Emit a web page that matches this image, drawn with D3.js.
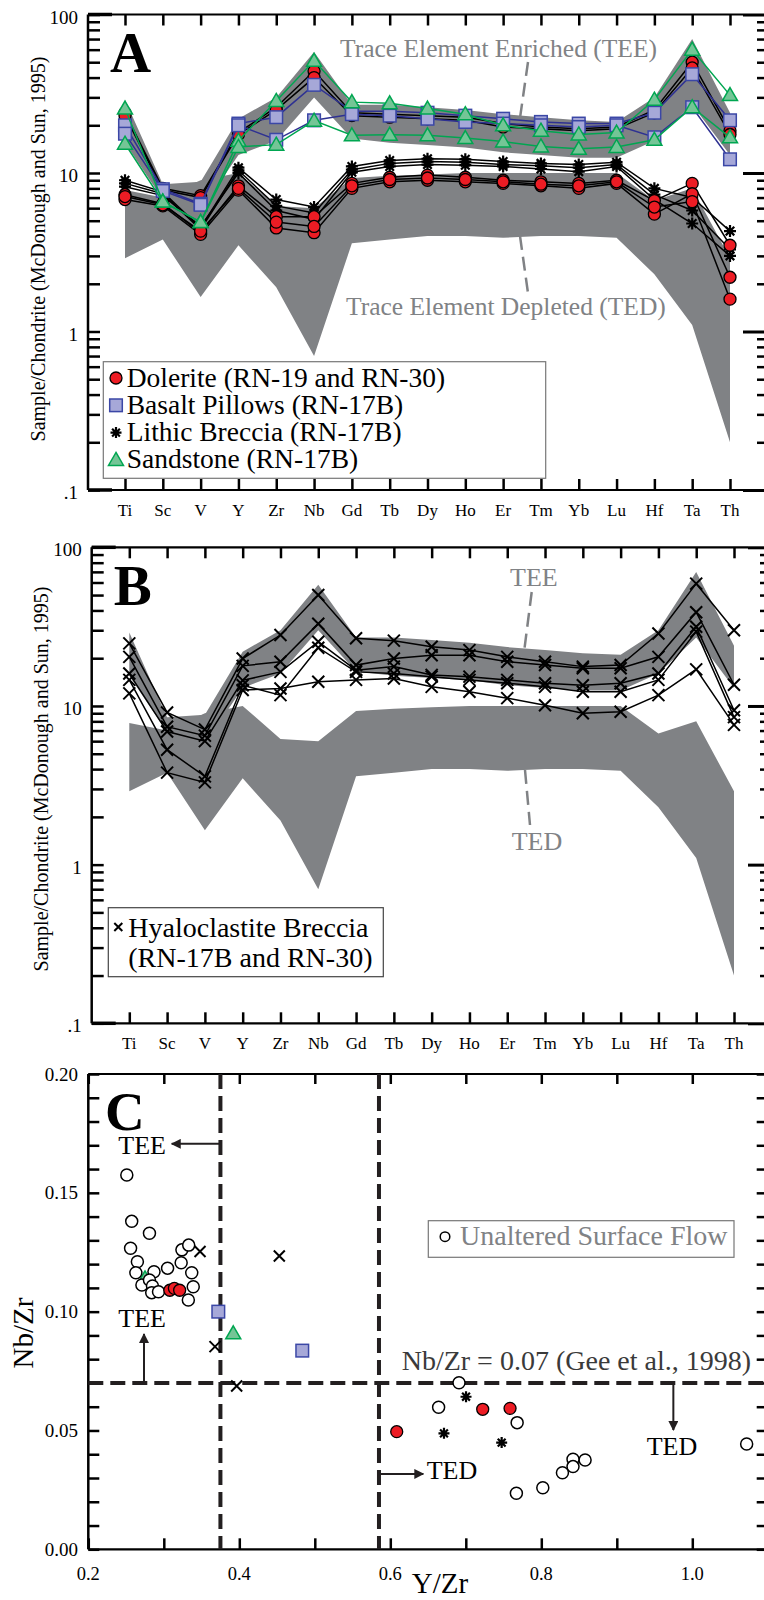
<!doctype html>
<html>
<head>
<meta charset="utf-8">
<script src="https://d3js.org/d3.v7.min.js"></script>
<style>
  body { margin: 0; background: #fff; }
  svg { display: block; font-family: "Liberation Serif", "Times New Roman", serif; }
</style>
</head>
<body>
<div id="chart"></div>
<script>
// ---------- data ----------
var elements = ["Ti","Sc","V","Y","Zr","Nb","Gd","Tb","Dy","Ho","Er","Tm","Yb","Lu","Hf","Ta","Th"];

// reference fields, sample/chondrite
var teeHigh = [29, 8.5, 8.8, 22, 30, 58, 27, 27, 26, 25, 23.5, 22.5, 21.5, 21, 30, 70, 24];
var teeLow  = [15.5, 6.8, 5.8, 13, 16, 30, 16.5, 15.5, 15, 14.5, 13.5, 13, 12.5, 12.5, 16, 27, 13];
var tedHigh = [7.8, 7.0, 9.0, 10, 6.2, 6.0, 9.3, 9.6, 9.8, 10, 10, 10, 10, 10, 6.7, 8, 2.9];
var tedLow  = [2.9, 3.8, 1.65, 3.5, 1.9, 0.7, 3.6, 3.8, 4.0, 4.0, 3.9, 4.0, 4.0, 3.9, 2.3, 1.1, 0.2];

// panel A samples
var doleriteA = [
  [24, 8.0, 7.2, 18, 26, 44, 24, 23.5, 23, 22.5, 20.5, 19.5, 19, 19.5, 25, 50, 18.5],
  [23, 7.8, 7.0, 17.5, 25, 40, 23, 22.5, 22, 21.5, 19.5, 19, 18.5, 19, 24, 46, 17.5],
  [7.3, 6.4, 4.2, 8.3, 5.3, 5.3, 8.6, 9.4, 9.7, 9.4, 9.0, 8.8, 8.6, 9.0, 6.7, 8.6, 3.5],
  [6.8, 6.2, 4.1, 7.8, 4.5, 4.2, 8.0, 8.8, 9.0, 8.8, 8.6, 8.3, 8.0, 8.6, 5.5, 7.4, 2.2],
  [7.1, 6.3, 4.3, 8.0, 4.9, 4.6, 8.3, 9.1, 9.3, 9.1, 8.8, 8.5, 8.3, 8.8, 6.1, 6.6, 1.6]
];
var basaltA = [
  [20, 7.9, 6.4, 20.5, 22.5, 36, 24.5, 24.5, 24, 23, 22, 21, 20.5, 20.5, 24, 42, 21.5],
  [17.7, 7.7, 6.3, 20, 16.2, 21.5, 23.5, 23, 22, 21, 20.5, 20, 19.5, 20, 16.8, 26, 12.2]
];
var lithicA = [
  [9.0, 7.6, 4.5, 10.8, 6.8, 6.1, 11.0, 12.0, 12.3, 12.2, 11.8, 11.5, 11.3, 11.7, 8.0, 7.0, 4.3],
  [8.6, 7.4, 4.4, 10.4, 6.2, 5.6, 10.5, 11.5, 11.8, 11.7, 11.3, 11.1, 10.8, 11.3, 7.3, 5.8, 3.3],
  [8.2, 7.2, 4.6, 10.0, 5.8, 5.1, 10.1, 11.0, 11.3, 11.2, 11.0, 10.6, 10.2, 11.0, 6.8, 4.8, 3.0]
];
var sandstoneA = [
  [25.5, 6.6, 4.9, 16, 28.5, 51, 28, 27.5, 25.5, 23.5, 20, 18.5, 17.5, 18, 29, 60, 31],
  [15.3, 6.6, 4.9, 14.6, 15.1, 21.4, 17.3, 17.4, 17.3, 16.6, 15.8, 14.7, 14.2, 14.6, 16.2, 26, 16.8]
];

// panel B samples
var hyaloB = [
  [24.8, 9.1, 7.1, 19.9, 28, 50, 26.7, 25.8, 23.6, 22.5, 20.4, 19, 17.7, 18.1, 28.6, 59, 30],
  [20.4, 7.4, 6.5, 17.9, 19, 33, 18.1, 19.9, 20.9, 20.9, 19, 18.1, 17.3, 17.3, 20.4, 39, 13.6],
  [16, 6.9, 6.0, 14.5, 16.4, 25.4, 16.8, 17.7, 15.7, 15.3, 14.6, 13.9, 13.5, 13.9, 16, 31.6, 9.4],
  [14.6, 5.3, 3.6, 13.5, 11.7, 23.3, 16.4, 16, 15.3, 14.6, 13.9, 13.2, 12.3, 12.3, 14.6, 29.4, 8.5],
  [12, 3.8, 3.3, 12.6, 12.9, 14.2, 14.6, 14.9, 13.2, 12.3, 11.2, 10.1, 9.0, 9.2, 11.7, 17, 7.6]
];

var logTickValues = [100, 10, 1, 0.1];
var logTickLabels = ["100", "10", "1", ".1"];

// panel C: [Y/Zr, Nb/Zr]
var surfaceFlow = [
  [0.251, 0.1575], [0.2575, 0.138], [0.281, 0.133], [0.256, 0.1267], [0.265, 0.121],
  [0.263, 0.1164], [0.287, 0.1168], [0.305, 0.1183], [0.324, 0.126], [0.333, 0.128],
  [0.323, 0.1206], [0.337, 0.1164], [0.339, 0.1105], [0.3325, 0.1049], [0.271, 0.1112],
  [0.281, 0.1133], [0.285, 0.1108], [0.284, 0.108], [0.293, 0.1084],
  [0.691, 0.0701], [0.664, 0.0598], [0.768, 0.0533], [1.072, 0.0443], [0.858, 0.0376],
  [0.842, 0.0379], [0.842, 0.0348], [0.828, 0.0322], [0.802, 0.0259], [0.767, 0.0236]
];
var doleriteC = [[0.308, 0.109], [0.314, 0.1098], [0.321, 0.109], [0.6085, 0.0495], [0.7224, 0.0589], [0.7586, 0.0593]];
var lithicC = [[0.7003, 0.0642], [0.6711, 0.0488], [0.7475, 0.0449]];
var hyaloC = [[0.348, 0.1253], [0.453, 0.1234], [0.3678, 0.0853], [0.3965, 0.0687]];
var basaltC = [[0.3722, 0.1], [0.4834, 0.0836]];
var sandstoneC = [[0.392, 0.0909], [0.2751, 0.114]];

var tedYZr = [0.375, 0.585];   // vertical boundaries
var geeNbZr = 0.07;            // Gee et al. 1998
var xTicksC = [0.2, 0.3, 0.4, 0.5, 0.6, 0.7, 0.8, 0.9, 1.0, 1.1];
var xLabelsC = [0.2, 0.4, 0.6, 0.8, 1.0];
var yLabelsC = [0, 0.05, 0.10, 0.15, 0.20];

// ---------- style ----------
var GREY = "#808285", RED = "#ed1c24", SQFILL = "#a6a8d8", SQLINE = "#3b47a6",
    BLUE = "#2e3192", TRIFILL = "#74c596", GREEN = "#00a651", DARK = "#231f20";

var svg = d3.select("#chart").append("svg").attr("width", 764).attr("height", 1600);

var defs = svg.append("defs");
defs.append("marker").attr("id", "arrow")
  .attr("viewBox", "0 0 10 10").attr("refX", 9).attr("refY", 5)
  .attr("markerWidth", 5).attr("markerHeight", 5).attr("orient", "auto")
  .append("path").attr("d", "M0,0L10,5L0,10z").attr("fill", DARK);

// ---------- markers ----------
function mCircle(g, cx, cy) {
  g.append("circle").attr("cx", cx).attr("cy", cy).attr("r", 6)
    .attr("fill", RED).attr("stroke", "#000").attr("stroke-width", 1.3);
}
function mOpen(g, cx, cy, r) {
  g.append("circle").attr("cx", cx).attr("cy", cy).attr("r", r || 6)
    .attr("fill", "#fff").attr("stroke", "#000").attr("stroke-width", 1.5);
}
function mSquare(g, cx, cy) {
  g.append("rect").attr("x", cx - 6.3).attr("y", cy - 6.3).attr("width", 12.6).attr("height", 12.6)
    .attr("fill", SQFILL).attr("stroke", SQLINE).attr("stroke-width", 1.5);
}
function mTriangle(g, cx, cy) {
  g.append("path")
    .attr("d", "M" + cx + "," + (cy - 7.5) + "L" + (cx + 7.5) + "," + (cy + 5.5) + "L" + (cx - 7.5) + "," + (cy + 5.5) + "Z")
    .attr("fill", TRIFILL).attr("stroke", GREEN).attr("stroke-width", 1.5);
}
function mStar(g, cx, cy, s) {
  var h = (s || 12) / 2, d = h * 0.71;
  g.append("path")
    .attr("d", "M" + (cx - h) + "," + cy + "L" + (cx + h) + "," + cy +
               "M" + cx + "," + (cy - h) + "L" + cx + "," + (cy + h) +
               "M" + (cx - d) + "," + (cy - d) + "L" + (cx + d) + "," + (cy + d) +
               "M" + (cx - d) + "," + (cy + d) + "L" + (cx + d) + "," + (cy - d))
    .attr("stroke", "#000").attr("stroke-width", 2.2).attr("fill", "none");
}
function mCross(g, cx, cy, s) {
  var h = (s || 12) / 2;
  g.append("path")
    .attr("d", "M" + (cx - h) + "," + (cy - h) + "L" + (cx + h) + "," + (cy + h) +
               "M" + (cx - h) + "," + (cy + h) + "L" + (cx + h) + "," + (cy - h))
    .attr("stroke", "#000").attr("stroke-width", 2).attr("fill", "none");
}

function styleTicks(a) {
  a.select(".domain").remove();
  a.selectAll(".tick line").attr("stroke", "#000").attr("stroke-width", 2.5);
}

// ---------- spider diagrams ----------
function spiderPanel(p) {
  var g = svg.append("g");
  var x = d3.scalePoint().domain(elements).range([p.xFirst, p.xLast]);
  var y = d3.scaleLog().domain([0.1, 100]).range([p.bottom, p.top]);

  var band = d3.area()
    .x(function(d, i) { return x(elements[i]); })
    .y0(function(d) { return y(d[0]); })
    .y1(function(d) { return y(d[1]); });
  g.append("path").attr("d", band(d3.zip(tedLow, tedHigh))).attr("fill", GREY);
  g.append("path").attr("d", band(d3.zip(teeLow, teeHigh))).attr("fill", GREY);

  var minor = [];
  [0.1, 1, 10].forEach(function(d) { for (var k = 2; k < 10; k++) minor.push(d * k); });

  // frame
  g.append("line").attr("x1", p.left).attr("x2", p.left).attr("y1", p.top).attr("y2", p.bottom)
    .attr("stroke", "#000").attr("stroke-width", 2.5);
  [p.top, p.bottom].forEach(function(yy) {
    g.append("line").attr("x1", p.left).attr("x2", p.lineEnd).attr("y1", yy).attr("y2", yy)
      .attr("stroke", "#000").attr("stroke-width", 2.2);
    g.append("line").attr("x1", p.left).attr("x2", p.left + 24).attr("y1", yy).attr("y2", yy)
      .attr("stroke", "#000").attr("stroke-width", 3.5);
  });

  // left ticks
  g.append("g").attr("transform", "translate(" + p.left + ",0)")
    .call(d3.axisRight(y).tickValues(minor.concat(logTickValues)).tickSize(12).tickFormat(""))
    .call(styleTicks);
  // right ticks, axis line itself lies outside the picture
  g.append("g").attr("transform", "translate(764,0)")
    .call(d3.axisLeft(y).tickValues(minor).tickSize(764 - p.rMinor).tickFormat(""))
    .call(styleTicks);
  g.append("g").attr("transform", "translate(764,0)")
    .call(d3.axisLeft(y).tickValues(logTickValues).tickSize(764 - p.rMajor).tickFormat(""))
    .call(function(a) { styleTicks(a); a.selectAll(".tick line").attr("stroke-width", 3); });
  // category ticks
  g.append("g").attr("transform", "translate(0," + p.top + ")")
    .call(d3.axisBottom(x).tickSize(11).tickFormat("")).call(styleTicks);
  g.append("g").attr("transform", "translate(0," + p.bottom + ")")
    .call(d3.axisTop(x).tickSize(11).tickFormat("")).call(styleTicks);

  g.selectAll(".cat").data(elements).enter().append("text")
    .attr("x", function(d) { return x(d); }).attr("y", p.bottom + 26)
    .attr("text-anchor", "middle").attr("font-size", 17).text(function(d) { return d; });

  g.selectAll(".ylab").data(logTickValues).enter().append("text")
    .attr("x", p.left - 10).attr("y", function(d) { return y(d) + 9; })
    .attr("text-anchor", "end").attr("font-size", 19)
    .text(function(d, i) { return logTickLabels[i]; });

  g.append("text").attr("transform", "translate(" + p.titleX + "," + p.titleY + ")rotate(-90)")
    .attr("text-anchor", "middle").attr("font-size", 20)
    .text("Sample/Chondrite (McDonough and Sun, 1995)");

  g.append("text").attr("x", p.left + 22).attr("y", p.letterY)
    .attr("font-size", 57).attr("font-weight", "bold").text(p.letter);

  return { g: g, x: x, y: y };
}

function drawRows(panel, rows, color, marker) {
  var line = d3.line()
    .x(function(d, i) { return panel.x(elements[i]); })
    .y(function(d) { return panel.y(d); });
  rows.forEach(function(r) {
    panel.g.append("path").attr("d", line(r)).attr("fill", "none")
      .attr("stroke", color).attr("stroke-width", 1.5);
  });
  rows.forEach(function(r) {
    r.forEach(function(v, i) { marker(panel.g, panel.x(elements[i]), panel.y(v)); });
  });
}

function leader(g, x1, y1, x2, y2) {
  g.append("line").attr("x1", x1).attr("y1", y1).attr("x2", x2).attr("y2", y2)
    .attr("stroke", GREY).attr("stroke-width", 2.5).attr("stroke-dasharray", "14,7");
}

// ----- panel A -----
var A = spiderPanel({ left: 88, top: 14.5, bottom: 490, xFirst: 125, xLast: 730, lineEnd: 743,
  rMajor: 743, rMinor: 757, titleX: 45, titleY: 249, letter: "A", letterY: 72 });

A.g.append("text").attr("x", 340).attr("y", 56.7).attr("font-size", 25.5).attr("fill", GREY)
  .text("Trace Element Enriched (TEE)");
A.g.append("text").attr("x", 346).attr("y", 315).attr("font-size", 25.5).attr("fill", GREY)
  .text("Trace Element Depleted (TED)");
leader(A.g, 528, 62, 520, 118);
leader(A.g, 520, 236, 528, 293);

drawRows(A, lithicA, "#000", function(g, cx, cy) { mStar(g, cx, cy, 12); });
drawRows(A, doleriteA, "#000", mCircle);
drawRows(A, basaltA, BLUE, mSquare);
drawRows(A, sandstoneA, GREEN, mTriangle);

// legend A
var legA = A.g.append("g");
legA.append("rect").attr("x", 103.3).attr("y", 361.7).attr("width", 442.4).attr("height", 116.6)
  .attr("fill", "#fff").attr("stroke", "#777").attr("stroke-width", 1.2);
var legAItems = [
  { label: "Dolerite (RN-19 and RN-30)", mark: mCircle },
  { label: "Basalt Pillows (RN-17B)", mark: mSquare },
  { label: "Lithic Breccia (RN-17B)", mark: function(g, cx, cy) { mStar(g, cx, cy, 11); } },
  { label: "Sandstone (RN-17B)", mark: mTriangle }
];
legAItems.forEach(function(it, i) {
  var base = 386.5 + i * 27.3;
  it.mark(legA, 116, base - 8.5);
  legA.append("text").attr("x", 126.7).attr("y", base).attr("font-size", 27.5).text(it.label);
});

// ----- panel B -----
var B = spiderPanel({ left: 91.7, top: 547.3, bottom: 1023.3, xFirst: 129.3, xLast: 734, lineEnd: 748,
  rMajor: 748, rMinor: 760, titleX: 48, titleY: 779, letter: "B", letterY: 605 });

B.g.append("text").attr("x", 510).attr("y", 586).attr("font-size", 26).attr("fill", GREY).text("TEE");
B.g.append("text").attr("x", 511.7).attr("y", 850).attr("font-size", 26).attr("fill", GREY).text("TED");
leader(B.g, 531.7, 592, 524.3, 650);
leader(B.g, 525, 770, 530, 825);

drawRows(B, hyaloB, "#000", function(g, cx, cy) { mCross(g, cx, cy, 12); });

var legB = B.g.append("g");
legB.append("rect").attr("x", 108.3).attr("y", 907.7).attr("width", 275).attr("height", 69)
  .attr("fill", "#fff").attr("stroke", "#444").attr("stroke-width", 1.2);
mCross(legB, 118.3, 927, 8);
legB.append("text").attr("x", 128.3).attr("y", 936.7).attr("font-size", 28).text("Hyaloclastite Breccia");
legB.append("text").attr("x", 128.3).attr("y", 967).attr("font-size", 28).text("(RN-17B and RN-30)");

// ----- panel C -----
var gC = svg.append("g");
var xC = d3.scaleLinear().domain([0.2, 1.1]).range([88.3, 767.8]);
var yC = d3.scaleLinear().domain([0, 0.2]).range([1549.3, 1074]);
var yTicksC = d3.range(21).map(function(i) { return i / 100; });

gC.append("line").attr("x1", xC(0.2)).attr("x2", xC(0.2)).attr("y1", yC(0.2)).attr("y2", yC(0))
  .attr("stroke", "#000").attr("stroke-width", 2.5);
[0, 0.2].forEach(function(v) {
  gC.append("line").attr("x1", xC(0.2)).attr("x2", 764).attr("y1", yC(v)).attr("y2", yC(v))
    .attr("stroke", "#000").attr("stroke-width", 2.2);
});
gC.append("g").attr("transform", "translate(" + xC(0.2) + ",0)")
  .call(d3.axisRight(yC).tickValues(yTicksC).tickSize(11).tickFormat("")).call(styleTicks);
gC.append("g").attr("transform", "translate(764,0)")
  .call(d3.axisLeft(yC).tickValues(yTicksC).tickSize(7.3).tickFormat("")).call(styleTicks);
gC.append("g").attr("transform", "translate(0," + yC(0.2) + ")")
  .call(d3.axisBottom(xC).tickValues(xTicksC).tickSize(10).tickFormat("")).call(styleTicks);
gC.append("g").attr("transform", "translate(0," + yC(0) + ")")
  .call(d3.axisTop(xC).tickValues(xTicksC).tickSize(11).tickFormat("")).call(styleTicks);

gC.selectAll(".xl").data(xLabelsC).enter().append("text")
  .attr("x", function(d) { return xC(d); }).attr("y", 1580)
  .attr("text-anchor", "middle").attr("font-size", 18.5).text(d3.format(".1f"));
gC.selectAll(".yl").data(yLabelsC).enter().append("text")
  .attr("x", 78).attr("y", function(d) { return yC(d) + 6.5; })
  .attr("text-anchor", "end").attr("font-size", 19).text(d3.format(".2f"));

gC.append("text").attr("x", 411.7).attr("y", 1593).attr("font-size", 29).text("Y/Zr");
gC.append("text").attr("transform", "translate(33,1333)rotate(-90)")
  .attr("text-anchor", "middle").attr("font-size", 29).text("Nb/Zr");
gC.append("text").attr("x", 105).attr("y", 1130).attr("font-size", 55).attr("font-weight", "bold").text("C");

// boundaries
tedYZr.forEach(function(v) {
  gC.append("line").attr("x1", xC(v)).attr("x2", xC(v)).attr("y1", yC(0.2)).attr("y2", yC(0))
    .attr("stroke", DARK).attr("stroke-width", 4).attr("stroke-dasharray", "15,7");
});
gC.append("line").attr("x1", xC(0.2)).attr("x2", 764).attr("y1", yC(geeNbZr)).attr("y2", yC(geeNbZr))
  .attr("stroke", DARK).attr("stroke-width", 4).attr("stroke-dasharray", "15,7");

function arrow(x1, y1, x2, y2) {
  gC.append("line").attr("x1", xC(x1)).attr("y1", yC(y1)).attr("x2", xC(x2)).attr("y2", yC(y2))
    .attr("stroke", DARK).attr("stroke-width", 2).attr("marker-end", "url(#arrow)");
}
arrow(tedYZr[0], 0.1706, 0.3105, 0.1706);
arrow(0.2738, geeNbZr, 0.2738, 0.0906);
arrow(0.9749, geeNbZr, 0.9749, 0.0502);
arrow(tedYZr[1], 0.0317, 0.6437, 0.0317);

gC.append("text").attr("x", 118.3).attr("y", 1154).attr("font-size", 26).text("TEE");
gC.append("text").attr("x", 118.3).attr("y", 1326.7).attr("font-size", 26).text("TEE");
gC.append("text").attr("x", 426.7).attr("y", 1479.3).attr("font-size", 26).text("TED");
gC.append("text").attr("x", 646.7).attr("y", 1455).attr("font-size", 26).text("TED");
gC.append("text").attr("x", 401.7).attr("y", 1370).attr("font-size", 28).attr("fill", "#3a3a3a")
  .text("Nb/Zr = 0.07 (Gee et al., 1998)");

// points
sandstoneC.forEach(function(d) { mTriangle(gC, xC(d[0]), yC(d[1])); });
surfaceFlow.forEach(function(d) { mOpen(gC, xC(d[0]), yC(d[1]), 6); });
doleriteC.forEach(function(d) { mCircle(gC, xC(d[0]), yC(d[1])); });
basaltC.forEach(function(d) { mSquare(gC, xC(d[0]), yC(d[1])); });
lithicC.forEach(function(d) { mStar(gC, xC(d[0]), yC(d[1]), 11); });
hyaloC.forEach(function(d) { mCross(gC, xC(d[0]), yC(d[1]), 11); });

// legend C
gC.append("rect").attr("x", 428.3).attr("y", 1220.7).attr("width", 305.7).attr("height", 36.6)
  .attr("fill", "#fff").attr("stroke", "#777").attr("stroke-width", 1.2);
mOpen(gC, 445, 1236.7, 4.8);
gC.append("text").attr("x", 460).attr("y", 1245).attr("font-size", 28).attr("fill", GREY)
  .text("Unaltered Surface Flow");
</script>
</body>
</html>
